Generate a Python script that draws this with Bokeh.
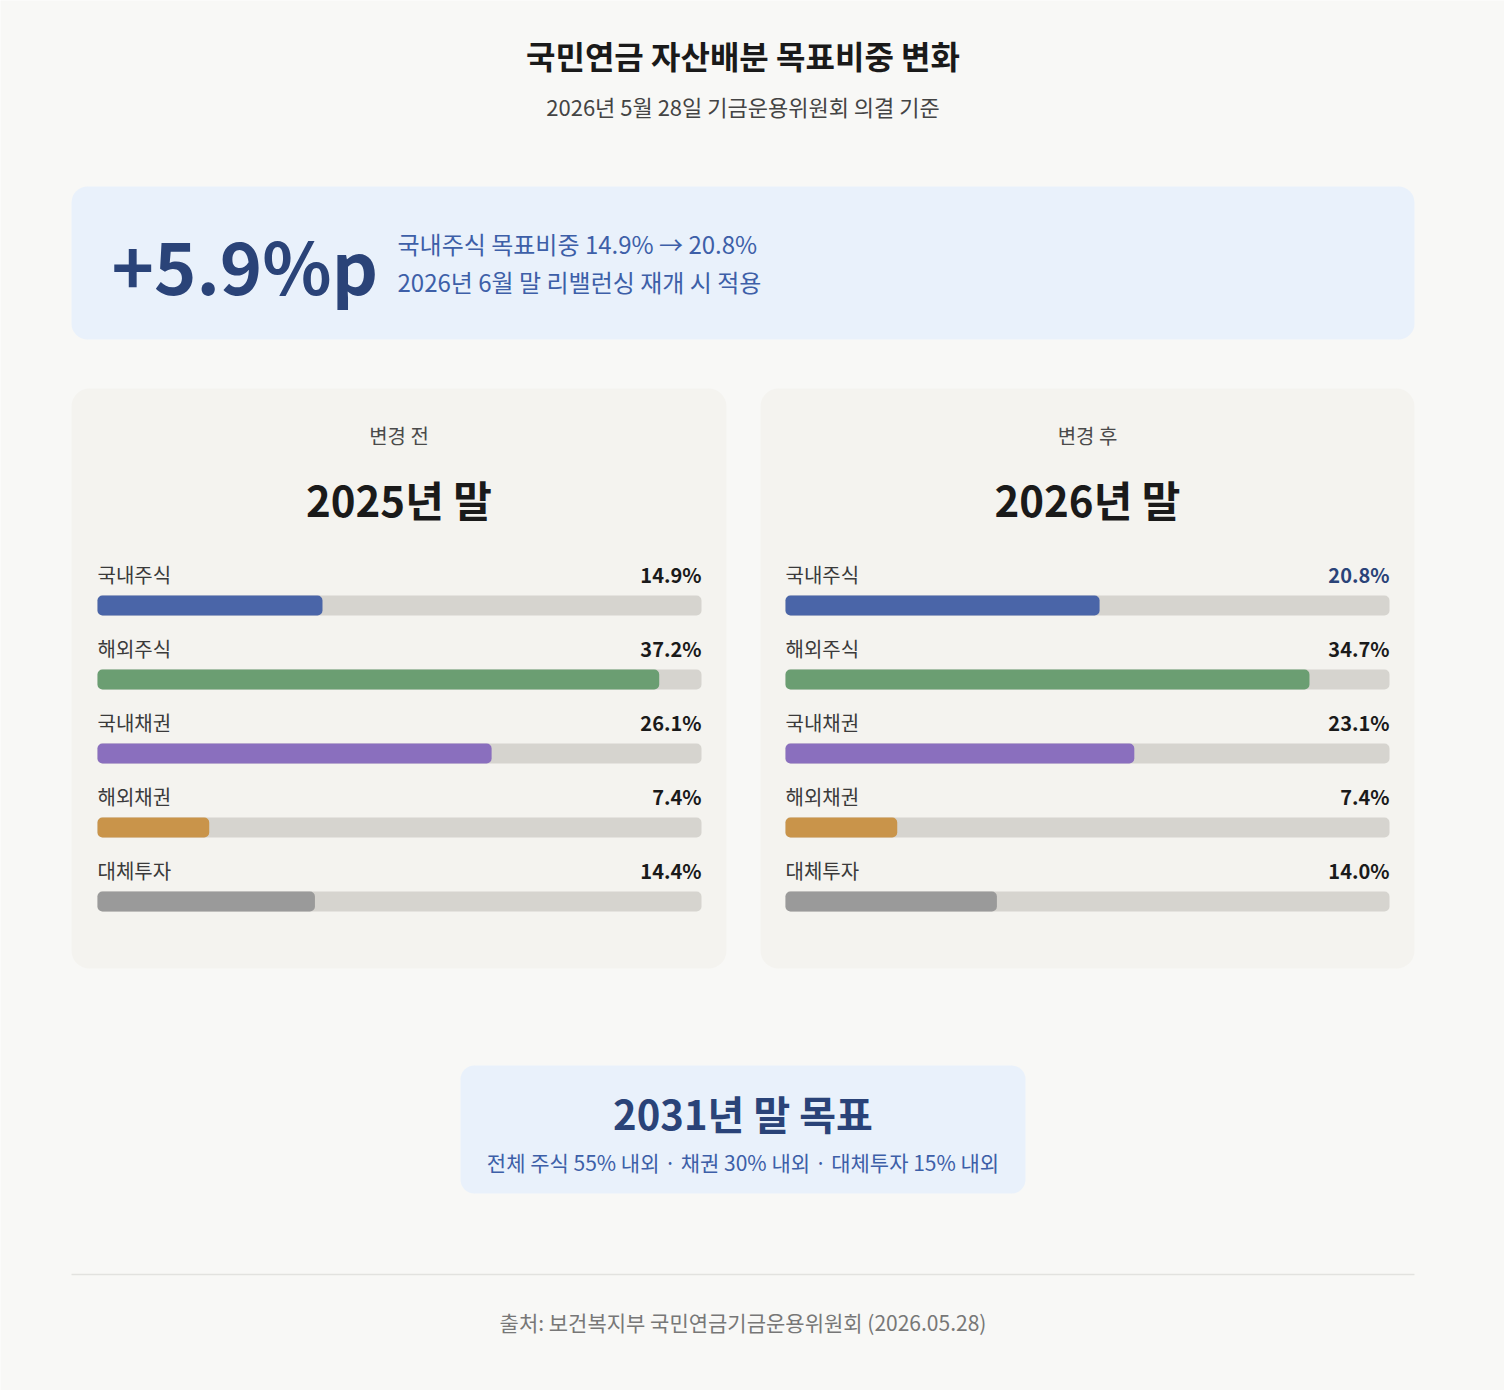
from bokeh.plotting import figure
from bokeh.models import Range1d
from bokeh.embed import file_html
from bokeh.resources import INLINE
from bokeh.core.properties import value

# ---------------- data ----------------
categories = ["국내주식", "해외주식", "국내채권", "해외채권", "대체투자"]
before_2025 = [14.9, 37.2, 26.1, 7.4, 14.4]
after_2026 = [20.8, 34.7, 23.1, 7.4, 14.0]
bar_colors = ["#4a65a8", "#6b9e72", "#8a6fbe", "#c9944a", "#9a9a9a"]
scale_max = 40.0

title = "국민연금 자산배분 목표비중 변화"
subtitle = "2026년 5월 28일 기금운용위원회 의결 기준"
headline = "+5.9%p"
headline_lines = ["국내주식 목표비중 14.9% → 20.8%", "2026년 6월 말 리밸런싱 재개 시 적용"]
panel_tags = ["변경 전", "변경 후"]
panel_titles = ["2025년 말", "2026년 말"]
goal_title = "2031년 말 목표"
goal_text = "전체 주식 55% 내외 · 채권 30% 내외 · 대체투자 15% 내외"
footer = "출처: 보건복지부 국민연금기금운용위원회 (2026.05.28)"

# ---------------- layout ----------------
W, H = 1504, 1390
CX = 742.5
BG = "#f8f8f6"
FONT = value("Noto Sans CJK KR")


def Y(py):
    return H - py


p = figure(width=W, height=H, output_backend="svg", toolbar_location=None,
           x_range=Range1d(0, W), y_range=Range1d(0, H),
           x_axis_type=None, y_axis_type=None, min_border=0,
           background_fill_color=BG, border_fill_color=BG,
           outline_line_color=None)
p.grid.visible = False

# track geometry for the two panels (0..scale_max maps to the track)
track_w = 604.0
tracks_x0 = [97.0, 785.0]
names = ["L", "R"]
for nm, x0 in zip(names, tracks_x0):
    p.extra_x_ranges[nm] = Range1d(-x0 / track_w * scale_max, (W - x0) / track_w * scale_max)

# title
p.text(x=[CX], y=[Y(54)], text=[title], text_font=FONT, text_font_size="32px",
       text_font_style="bold", text_color="#1a1a1a", text_align="center", text_baseline="middle")
p.text(x=[CX], y=[Y(105)], text=[subtitle], text_font=FONT, text_font_size="22px",
       text_color="#444444", text_align="center", text_baseline="middle")

# banner
p.quad(left=[71], right=[1414], top=[Y(186)], bottom=[Y(339)], fill_color="#e9f1fb",
       line_color=None, border_radius=16)
p.text(x=[111], y=[Y(263)], text=[headline], text_font=FONT, text_font_size="72px",
       text_font_style="bold", text_color="#2a4378", text_align="left", text_baseline="middle")
p.text(x=[397, 397], y=[Y(243), Y(281)], text=headline_lines, text_font=FONT,
       text_font_size="24px", text_color="#3d5fa8", text_align="left", text_baseline="middle")

# panels
panel_lr = [(71, 726), (760, 1414)]
for (l, r) in panel_lr:
    p.quad(left=[l], right=[r], top=[Y(388)], bottom=[Y(968)], fill_color="#f4f3ef",
           line_color=None, border_radius=18)

series = [before_2025, after_2026]
row_label_y = [574 + 74 * i for i in range(len(categories))]
row_bar_y = [605 + 74 * i for i in range(len(categories))]

for k, ((l, r), nm, vals) in enumerate(zip(panel_lr, names, series)):
    cx = (l + r) / 2
    p.text(x=[cx], y=[Y(435)], text=[panel_tags[k]], text_font=FONT, text_font_size="20px",
           text_color="#4a4a4a", text_align="center", text_baseline="middle")
    p.text(x=[cx], y=[Y(498)], text=[panel_titles[k]], text_font=FONT, text_font_size="42px",
           text_font_style="bold", text_color="#1a1a1a", text_align="center", text_baseline="middle")
    ys = [Y(v) for v in row_bar_y]
    p.hbar(y=ys, left=0, right=scale_max, height=20, x_range_name=nm,
           fill_color="#d6d4cf", line_color=None, border_radius=5)
    p.hbar(y=ys, left=0, right=vals, height=20, x_range_name=nm,
           fill_color=bar_colors, line_color=None, border_radius=5)
    ly = [Y(v) for v in row_label_y]
    p.text(x=[0] * len(categories), y=ly, text=categories, x_range_name=nm, text_font=FONT,
           text_font_size="20px", text_color="#3a3a3a", text_align="left", text_baseline="middle")
    val_colors = ["#1a1a1a"] * len(vals)
    if k == 1:
        val_colors[0] = "#2a4378"
    p.text(x=[scale_max] * len(vals), y=ly, text=[f"{v:.1f}%" for v in vals], x_range_name=nm,
           text_font=FONT, text_font_size="20px", text_font_style="bold",
           text_color=val_colors, text_align="right", text_baseline="middle")

# goal box
p.quad(left=[460], right=[1025], top=[Y(1065)], bottom=[Y(1193)], fill_color="#e9f1fb",
       line_color=None, border_radius=14)
p.text(x=[CX], y=[Y(1112)], text=[goal_title], text_font=FONT, text_font_size="40px",
       text_font_style="bold", text_color="#2a4378", text_align="center", text_baseline="middle")
p.text(x=[CX], y=[Y(1161)], text=[goal_text], text_font=FONT, text_font_size="21px",
       text_color="#3d5fa8", text_align="center", text_baseline="middle")

# divider + footer
p.segment(x0=[71], y0=[Y(1274)], x1=[1414], y1=[Y(1274)], line_color="#e2e2df", line_width=1.5)
p.text(x=[CX], y=[Y(1321)], text=[footer], text_font=FONT, text_font_size="21px",
       text_color="#777777", text_align="center", text_baseline="middle")

open("out.html", "w").write(file_html(p, INLINE))
